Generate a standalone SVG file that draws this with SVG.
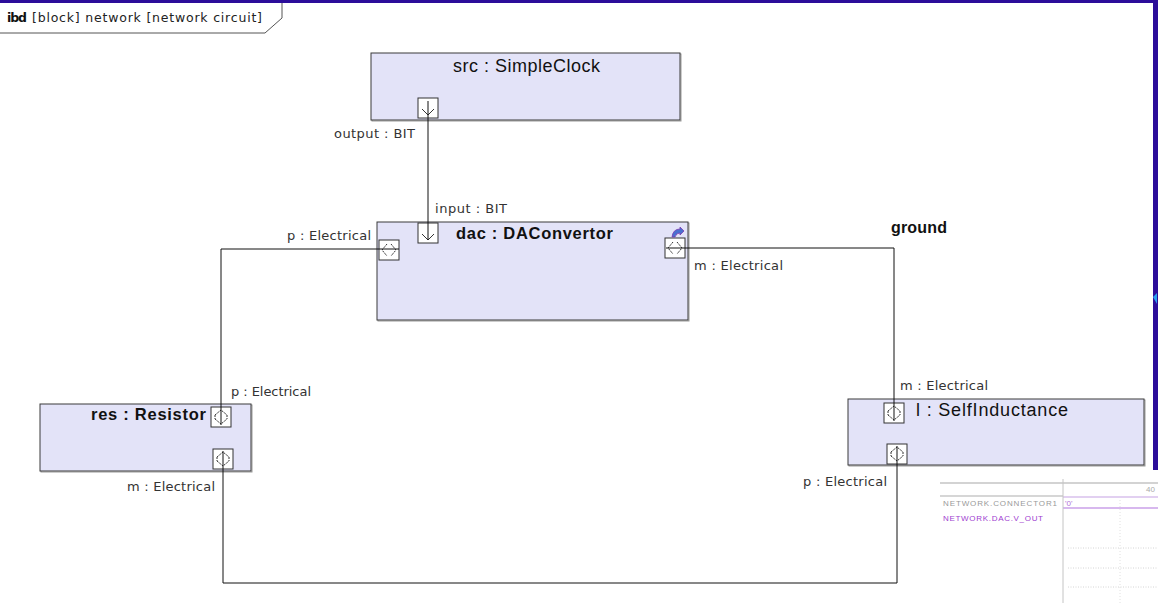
<svg xmlns="http://www.w3.org/2000/svg" width="1158" height="603" viewBox="0 0 1158 603">
  <defs>
    <style>
      .lbl { font-family: "DejaVu Sans", Verdana, sans-serif; font-size: 13px; fill: #333; }
      .title { font-family: "Liberation Sans", Arial, sans-serif; font-size: 18px; fill: #111; }
      .btitle { font-family: "Liberation Sans", Arial, sans-serif; font-size: 16.5px; font-weight: bold; fill: #111; }
      .block { fill: #e3e3f8; stroke: #3a3a3a; stroke-width: 1; }
      .shadow { fill: none; stroke: #9a9a9a; stroke-width: 1; }
      .port { fill: #ffffff; stroke: #333; stroke-width: 1; }
      .glyph { fill: none; stroke: #333; stroke-width: 1; }
      .dots { fill: none; stroke: #333; stroke-width: 1; stroke-dasharray: 2 1; }
      .wire { fill: none; stroke: #111; stroke-width: 1; }
      .chart { font-family: "Liberation Sans", Arial, sans-serif; font-size: 8px; }
    </style>
    <!-- port symbols, 20x20, origin at top-left -->
    <g id="portDown">
      <rect class="port" x="0" y="0" width="20" height="20"/>
      <polyline class="glyph" points="4,11 10,17 16,11"/>
    </g>
    <g id="portH">
      <rect class="port" x="0" y="0" width="20" height="20"/>
      <polyline class="dots" points="8,4 3,10 8,16"/>
      <polyline class="dots" points="12,4 17,10 12,16"/>
    </g>
    <g id="portV">
      <rect class="port" x="0" y="0" width="20" height="20"/>
      <polyline class="dots" points="4,8 10,3 16,8"/>
      <polyline class="dots" points="4,12 10,17 16,12"/>
      <line class="dots" x1="4" y1="8" x2="4" y2="12"/>
      <line class="dots" x1="16" y1="8" x2="16" y2="12"/>
    </g>
  </defs>

  <rect x="0" y="0" width="1158" height="603" fill="#ffffff"/>

  <!-- diagram frame -->
  <g id="frame">
    <rect x="0" y="0" width="1158" height="3" fill="#2c0d9a"/>
    <rect x="1153" y="0" width="5" height="470" fill="#2c0d9a"/>
    <polygon points="1153,297 1157,293 1157,304" fill="#2aa0f0"/>
    <polyline points="0,33 265,33 282,18 282,3" fill="none" stroke="#555" stroke-width="1"/>
    <text x="7" y="22" font-family="'DejaVu Sans', Verdana, sans-serif" font-size="12.5px" font-weight="bold" fill="#111" textLength="20">ibd</text>
    <text x="32" y="22" font-family="'DejaVu Sans', Verdana, sans-serif" font-size="12.5px" fill="#222" textLength="230">[block] network [network circuit]</text>
  </g>

  <!-- src : SimpleClock -->
  <g id="src">
    <rect class="shadow" x="372" y="54" width="309" height="67"/>
    <rect class="block" x="371" y="53" width="309" height="67"/>
    <text class="title" x="453" y="72" textLength="147">src : SimpleClock</text>
    <use href="#portDown" x="418" y="98"/>
    <text class="lbl" x="415" y="138" text-anchor="end" textLength="81">output : BIT</text>
  </g>

  <!-- dac : DAConvertor -->
  <g id="dac">
    <rect class="shadow" x="378" y="223" width="311" height="98"/>
    <rect class="block" x="377" y="222" width="311" height="98"/>
    <text class="btitle" x="456" y="239" textLength="157">dac : DAConvertor</text>
    <use href="#portDown" x="418" y="223"/>
    <use href="#portH" x="379" y="240"/>
    <use href="#portH" x="665" y="238"/>
    <!-- behaviour icon -->
    <path d="M672,237 q1,-8 8,-8 l0,-2 l4,4 l-4,4 l0,-2 q-4,0 -5,4 z" fill="#4a6fd0" stroke="#7a3cb0" stroke-width="0.8"/>
    <text class="lbl" x="435" y="213" textLength="72">input : BIT</text>
    <text class="lbl" x="371" y="240" text-anchor="end" textLength="84">p : Electrical</text>
    <text class="lbl" x="694" y="270" textLength="89">m : Electrical</text>
    <text x="891" y="233" font-family="'Liberation Sans', Arial, sans-serif" font-size="16px" font-weight="bold" fill="#111" textLength="56">ground</text>
  </g>

  <!-- res : Resistor -->
  <g id="res">
    <rect class="shadow" x="41" y="405" width="211" height="67"/>
    <rect class="block" x="40" y="404" width="211" height="67"/>
    <text class="btitle" x="91" y="420" textLength="115">res : Resistor</text>
    <use href="#portV" x="211" y="407"/>
    <use href="#portV" x="213" y="449"/>
    <text class="lbl" x="231" y="396" textLength="80">p : Electrical</text>
    <text class="lbl" x="215" y="491" text-anchor="end" textLength="88">m : Electrical</text>
  </g>

  <!-- l : SelfInductance -->
  <g id="l">
    <rect class="shadow" x="849" y="400" width="296" height="66"/>
    <rect class="block" x="848" y="399" width="296" height="66"/>
    <text class="title" x="916" y="416" textLength="152">l : SelfInductance</text>
    <use href="#portV" x="884" y="403"/>
    <use href="#portV" x="887" y="444"/>
    <text class="lbl" x="900" y="390" textLength="88">m : Electrical</text>
    <text class="lbl" x="887" y="486" text-anchor="end" textLength="84">p : Electrical</text>
  </g>

  <!-- connectors, drawn through the port centres -->
  <g id="connectors">
    <line class="wire" x1="428" y1="101" x2="428" y2="240"/>
    <polyline class="wire" points="399,249 221,249 221,425"/>
    <polyline class="wire" points="666,248 894,248 894,421"/>
    <polyline class="wire" points="223,451 223,583 897,583 897,446"/>
  </g>

  <!-- signal viewer strip -->
  <g id="viewer">
    <line x1="940" y1="483" x2="1158" y2="483" stroke="#c4c4c4" stroke-width="1.5"/>
    <line x1="940" y1="496" x2="1063" y2="496" stroke="#c8c8c8" stroke-width="1.5"/>
    <line x1="1063" y1="497" x2="1158" y2="497" stroke="#d8c0ec" stroke-width="1.5"/>
    <line x1="1063" y1="508" x2="1158" y2="508" stroke="#caa0e8" stroke-width="1.5"/>
    <line x1="1063" y1="479" x2="1063" y2="603" stroke="#c4c4c4" stroke-width="1"/>
    <line x1="1068" y1="548" x2="1158" y2="548" stroke="#d4d4d4" stroke-width="1" stroke-dasharray="1 1.5"/>
    <line x1="1068" y1="568" x2="1158" y2="568" stroke="#d4d4d4" stroke-width="1" stroke-dasharray="1 1.5"/>
    <line x1="1068" y1="587" x2="1158" y2="587" stroke="#d4d4d4" stroke-width="1" stroke-dasharray="1 1.5"/>
    <line x1="1120" y1="500" x2="1120" y2="603" stroke="#e0e0e0" stroke-width="1" stroke-dasharray="1 2"/>
    <text class="chart" x="943" y="506" fill="#999" textLength="114">NETWORK.CONNECTOR1</text>
    <text class="chart" x="1065" y="506" fill="#b070d8">'0'</text>
    <text class="chart" x="943" y="521" fill="#a040d0" textLength="100">NETWORK.DAC.V_OUT</text>
    <text class="chart" x="1146" y="492" fill="#aaa">40</text>
  </g>
</svg>
